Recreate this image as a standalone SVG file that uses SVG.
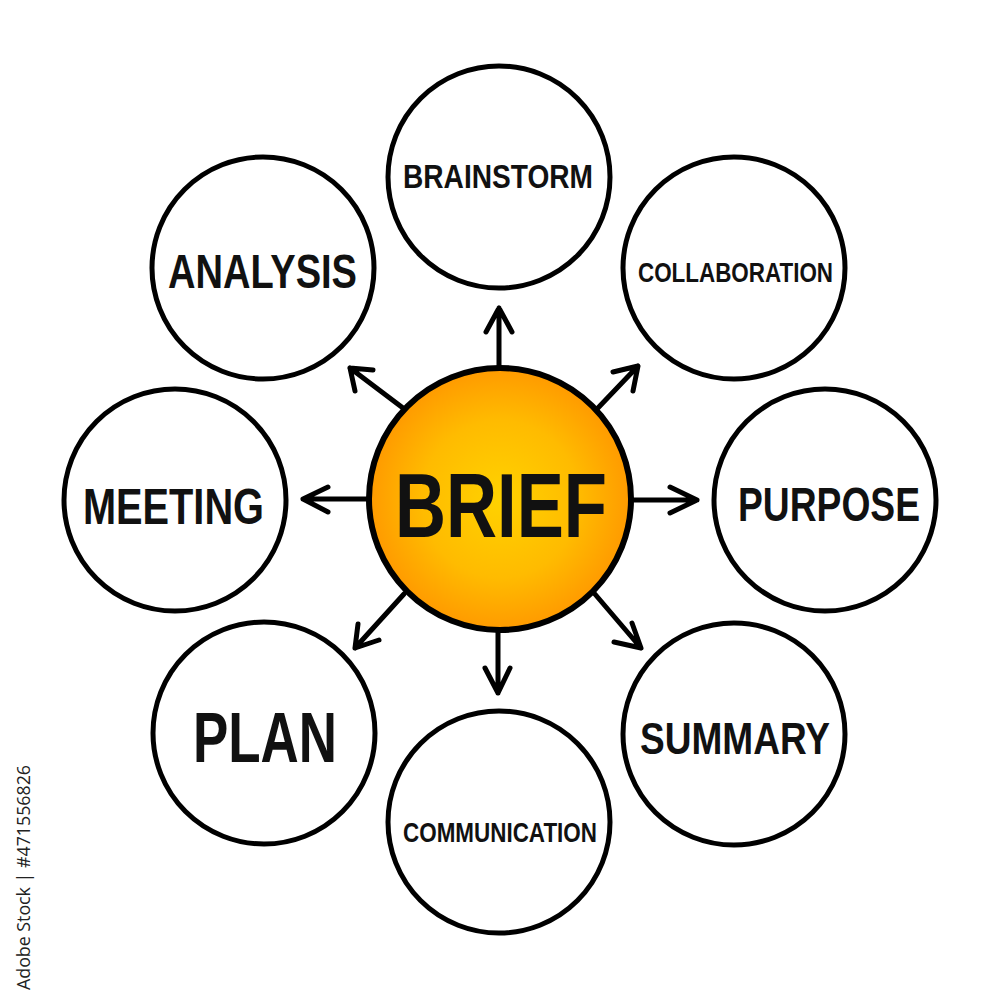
<svg xmlns="http://www.w3.org/2000/svg" width="1000" height="1000" viewBox="0 0 1000 1000">
<style>
.node{fill:#fff;stroke:#000;stroke-width:5}
.lbl{font-family:"Liberation Sans",Arial,sans-serif;font-weight:bold;fill:#111}
.arr{stroke:#000;stroke-width:5;fill:none;stroke-linecap:round;stroke-linejoin:round}
</style>
<defs>
<radialGradient id="g" cx="50%" cy="50%" r="50%">
<stop offset="0" stop-color="#ffd200"/>
<stop offset="0.6" stop-color="#ffbb00"/>
<stop offset="1" stop-color="#ff9a00"/>
</radialGradient>
</defs>
<rect width="1000" height="1000" fill="#fff"/>
<g id="connectors">
<path class="arr" d="M499 368 V308 M486 332 L499 308 L512 332"/>
<path class="arr" d="M596 410 L638 366 M613 372 L638 366 L633 391"/>
<path class="arr" d="M632 500 H697 M670 487 L697 500 L670 513"/>
<path class="arr" d="M594 593 L641 648 M632 623 L641 648 L614 642"/>
<path class="arr" d="M498 632 V693 M485 668 L498 693 L510 668"/>
<path class="arr" d="M404 594 L355 648 M358 624 L355 648 L379 640"/>
<path class="arr" d="M368 499 H303 M328 487 L303 499 L328 512"/>
<path class="arr" d="M403 408 L350 368 M355 391 L350 368 L373 370"/>
</g>
<g id="brief">
<circle cx="500" cy="499" r="131" fill="url(#g)" stroke="#000" stroke-width="6"/>
<text class="lbl" x="395" y="537" font-size="90" textLength="212" lengthAdjust="spacingAndGlyphs">BRIEF</text>
</g>
<g id="brainstorm"><circle class="node" cx="499" cy="177" r="111"/><text class="lbl" x="403" y="188" font-size="33" textLength="190" lengthAdjust="spacingAndGlyphs">BRAINSTORM</text></g>
<g id="collaboration"><circle class="node" cx="734" cy="268" r="111"/><text class="lbl" x="638" y="282" font-size="27" textLength="195" lengthAdjust="spacingAndGlyphs">COLLABORATION</text></g>
<g id="purpose"><circle class="node" cx="825" cy="500" r="111"/><text class="lbl" x="738" y="521" font-size="48" textLength="182" lengthAdjust="spacingAndGlyphs">PURPOSE</text></g>
<g id="summary"><circle class="node" cx="734" cy="734" r="111"/><text class="lbl" x="640" y="754" font-size="45" textLength="190" lengthAdjust="spacingAndGlyphs">SUMMARY</text></g>
<g id="communication"><circle class="node" cx="499" cy="822" r="111"/><text class="lbl" x="403" y="842" font-size="28" textLength="194" lengthAdjust="spacingAndGlyphs">COMMUNICATION</text></g>
<g id="plan"><circle class="node" cx="264" cy="733" r="111"/><text class="lbl" x="193" y="762" font-size="70" textLength="144" lengthAdjust="spacingAndGlyphs">PLAN</text></g>
<g id="meeting"><circle class="node" cx="175" cy="500" r="111"/><text class="lbl" x="83" y="524" font-size="50" textLength="181" lengthAdjust="spacingAndGlyphs">MEETING</text></g>
<g id="analysis"><circle class="node" cx="263" cy="268" r="111"/><text class="lbl" x="168" y="288" font-size="48" textLength="189" lengthAdjust="spacingAndGlyphs">ANALYSIS</text></g>
<text x="30" y="990" transform="rotate(-90 30 990)" font-family="'Open Sans','Noto Sans',sans-serif" font-size="18" fill="#222" textLength="225" lengthAdjust="spacingAndGlyphs">Adobe Stock | #471556826</text>
</svg>
